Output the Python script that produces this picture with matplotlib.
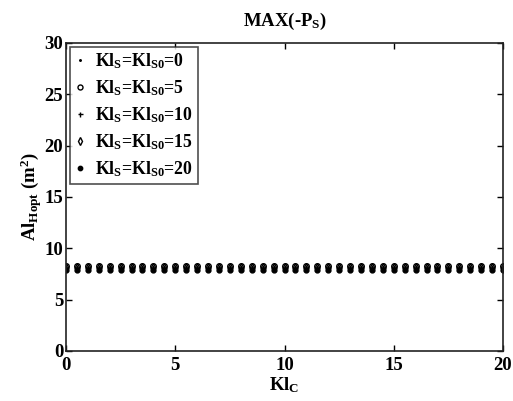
import numpy as np
import matplotlib
matplotlib.use('Agg')
import matplotlib.pyplot as plt

plt.rcParams['font.family'] = ['Liberation Serif', 'DejaVu Serif']
plt.rcParams['font.weight'] = 'bold'
plt.rcParams['mathtext.fontset'] = 'custom'
plt.rcParams['mathtext.rm'] = 'Liberation Serif:bold'
plt.rcParams['mathtext.it'] = 'Liberation Serif:bold'
plt.rcParams['mathtext.bf'] = 'Liberation Serif:bold'

# Data
kl_c = [0, 0.5, 1, 1.5, 2, 2.5, 3, 3.5, 4, 4.5, 5, 5.5, 6, 6.5, 7, 7.5, 8, 8.5, 9, 9.5,
        10, 10.5, 11, 11.5, 12, 12.5, 13, 13.5, 14, 14.5, 15, 15.5, 16, 16.5, 17, 17.5,
        18, 18.5, 19, 19.5, 20]
series_labels = ['Kl$_\\mathrm{S}$=Kl$_\\mathrm{S0}$=0',
                 'Kl$_\\mathrm{S}$=Kl$_\\mathrm{S0}$=5',
                 'Kl$_\\mathrm{S}$=Kl$_\\mathrm{S0}$=10',
                 'Kl$_\\mathrm{S}$=Kl$_\\mathrm{S0}$=15',
                 'Kl$_\\mathrm{S}$=Kl$_\\mathrm{S0}$=20']
al_s0 = [8.1] * 41
al_s5 = [8.3] * 41
al_s10 = [8.1] * 41
al_s15 = [8.2] * 41
al_s20 = [7.9] * 41
xticks = [0, 5, 10, 15, 20]
yticks = [0, 5, 10, 15, 20, 25, 30]

fig = plt.figure(figsize=(5.13, 4.01), dpi=100)
ax = fig.add_axes([0.1287, 0.1247, 0.8518, 0.7681])

ax.plot(kl_c, al_s0, linestyle='none', marker='.', markersize=2.5, color='black', label=series_labels[0])
ax.plot(kl_c, al_s5, linestyle='none', marker='o', markersize=4.0, markerfacecolor='none',
        markeredgecolor='black', markeredgewidth=1.0, label=series_labels[1])
ax.plot(kl_c, al_s10, linestyle='none', marker='+', markersize=4.0, color='black',
        markeredgewidth=1.0, label=series_labels[2])
ax.plot(kl_c, al_s15, linestyle='none', marker='d', markersize=4.0, markerfacecolor='none',
        markeredgecolor='black', markeredgewidth=1.0, label=series_labels[3])
ax.plot(kl_c, al_s20, linestyle='none', marker='o', markersize=3.5, color='black', label=series_labels[4])

ax.set_xlim(0, 20)
ax.set_ylim(0, 30)
ax.set_xticks(xticks)
ax.set_yticks(yticks)
ax.tick_params(direction='in', top=True, right=True, length=4, width=1.0, labelsize=13.5)
ax.tick_params(axis='x', pad=4)
ax.tick_params(axis='y', pad=2)
for lbl in ax.get_xticklabels() + ax.get_yticklabels():
    lbl.set_fontweight('bold')
for sp in ax.spines.values():
    sp.set_linewidth(1.2)
    sp.set_color('#222222')

ax.set_title('MAX(-P$_\\mathrm{S}$)', fontsize=13.5, fontweight='bold', pad=12)
ax.set_xlabel('Kl$_\\mathrm{C}$', fontsize=13.5, fontweight='bold', labelpad=1)
ax.set_ylabel('Al$_\\mathrm{Hopt}$ (m$^\\mathrm{2}$)', fontsize=13.5, fontweight='bold', labelpad=0)

leg = ax.legend(loc='upper left', fontsize=12.8, frameon=True, fancybox=False, edgecolor='#222222',
                handlelength=0.7, handletextpad=0.5, labelspacing=0.42, borderpad=0.25,
                borderaxespad=0.2, markerscale=0.9)
leg.get_frame().set_linewidth(1.2)

fig.savefig('out.png', dpi=100)
